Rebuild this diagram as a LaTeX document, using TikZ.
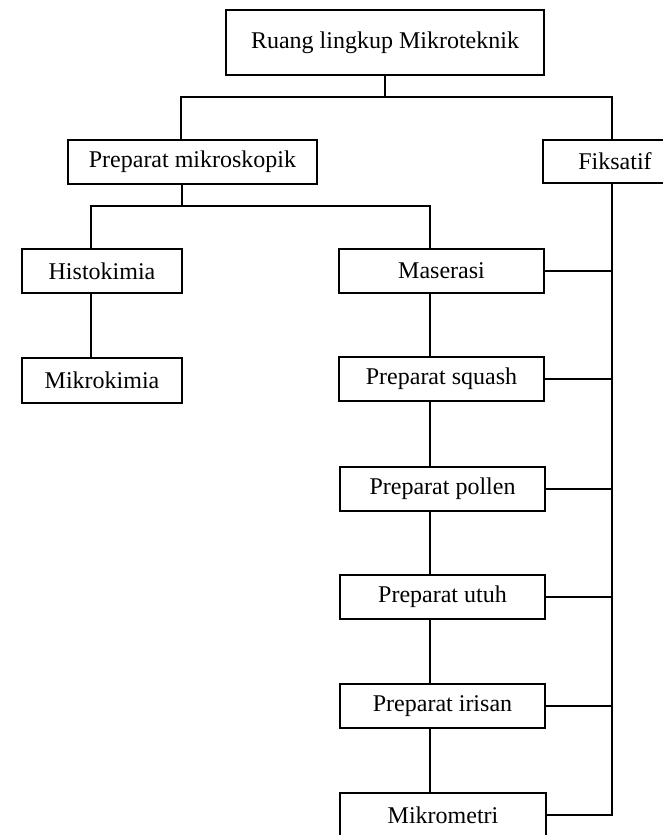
\documentclass[tikz,border=0pt]{standalone}
\usepackage{fontspec}
\setmainfont{Liberation Serif}
\begin{document}
\begin{tikzpicture}[x=1pt,y=-1pt,
  box/.style={draw,line width=2pt,rectangle,inner sep=0pt,minimum height=44pt,
    font=\fontsize{24}{28}\selectfont},
  conn/.style={line width=2pt}]
\useasboundingbox (0,0) rectangle (663,835);
\fill[white] (0,0) rectangle (663,835);
\clip (0,0) rectangle (663,835);
% nodes
\node[box,minimum width=318pt,minimum height=65pt] (top) at (385,42.5) {Ruang lingkup Mikroteknik};
\node[box,minimum width=249pt] (pm) at (192.5,162) {Preparat mikroskopik};
\node[box,minimum width=144pt,minimum height=43pt] (fik) at (615,161.5) {Fiksatif};
\node[box,minimum width=160pt] (histo) at (102,271) {Histokimia};
\node[box,minimum width=160pt,minimum height=45pt] (mkk) at (102,380.5) {Mikrokimia};
\node[box,minimum width=205pt] (mas) at (441.5,271) {Maserasi};
\node[box,minimum width=205pt] (sq) at (441.5,379) {Preparat squash};
\node[box,minimum width=205pt] (pol) at (442.5,489) {Preparat pollen};
\node[box,minimum width=205pt] (utuh) at (442.5,597) {Preparat utuh};
\node[box,minimum width=205pt] (iris) at (442.5,706) {Preparat irisan};
\node[box,minimum width=206pt] (mikm) at (443,815) {Mikrometri};
% junction coordinates
\coordinate (hl) at (181,97);
\coordinate (hr) at (612,97);
\coordinate (mc) at (182,206);
\coordinate (ml) at (91,206);
\coordinate (mr) at (430,206);
% top level
\draw[conn] (top.south) -- (top.south |- hl);
\draw[conn] (hl |- pm.north) -- (hl) -- (hr) -- (hr |- fik.north);
% preparat mikroskopik branch
\draw[conn] (mc |- pm.south) -- (mc);
\draw[conn] (ml |- histo.north) -- (ml) -- (mr) -- (mr |- mas.north);
\draw[conn] (ml |- histo.south) -- (ml |- mkk.north);
% chain
\draw[conn] (mr |- mas.south) -- (mr |- sq.north);
\draw[conn] (mr |- sq.south) -- (mr |- pol.north);
\draw[conn] (mr |- pol.south) -- (mr |- utuh.north);
\draw[conn] (mr |- utuh.south) -- (mr |- iris.north);
\draw[conn] (mr |- iris.south) -- (mr |- mikm.north);
% fiksatif line
\draw[conn] (mikm.east) -- (mikm.east -| hr) -- (hr |- fik.south);
\draw[conn] (mas.east) -- (mas.east -| hr);
\draw[conn] (sq.east) -- (sq.east -| hr);
\draw[conn] (pol.east) -- (pol.east -| hr);
\draw[conn] (utuh.east) -- (utuh.east -| hr);
\draw[conn] (iris.east) -- (iris.east -| hr);
\end{tikzpicture}
\end{document}
